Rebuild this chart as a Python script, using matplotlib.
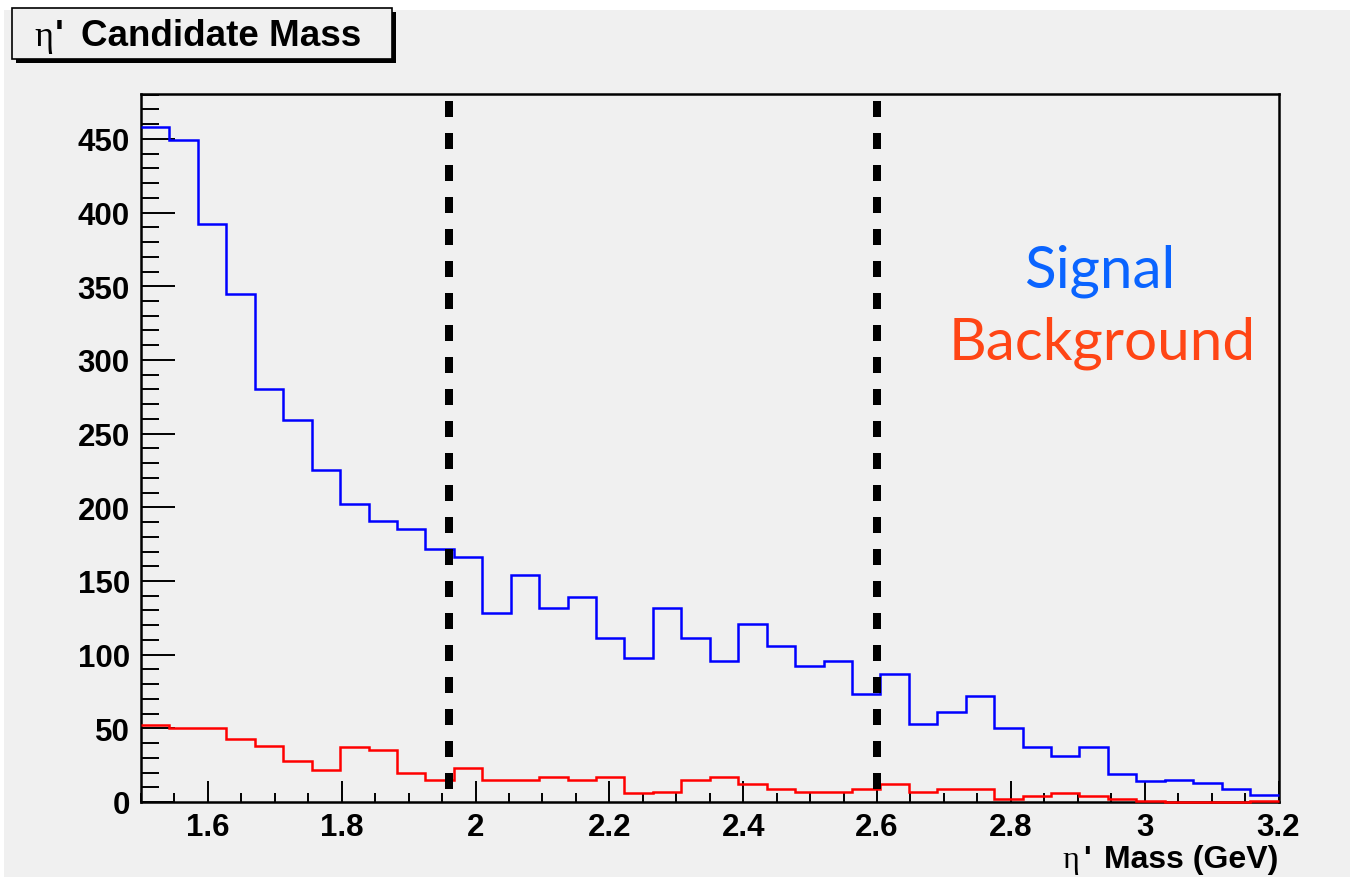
import matplotlib
matplotlib.use('Agg')
import matplotlib.pyplot as plt
import numpy as np
from matplotlib.patches import Rectangle
from matplotlib.ticker import MultipleLocator, FixedLocator, FixedFormatter

# ---- data ----
bin_lo, bin_hi, n_bins = 1.5, 3.2, 40
signal = [458, 449, 392, 345, 280, 259, 225, 202, 191, 185,
          172, 166, 128, 154, 132, 139, 111, 98, 132, 111,
          96, 121, 106, 92, 96, 73, 87, 53, 61, 72,
          50, 37, 31, 37, 19, 14, 15, 13, 9, 5]
background = [52, 50, 50, 43, 38, 28, 22, 37, 35, 20,
              15, 23, 15, 15, 17, 15, 17, 6, 7, 15,
              17, 12, 9, 7, 7, 9, 12, 7, 9, 9,
              2, 4, 6, 4, 2, 1, 0, 0, 0, 1]
cut_values = [1.96, 2.6]
cut_top = 476
x_ticks = [1.6, 1.8, 2.0, 2.2, 2.4, 2.6, 2.8, 3.0, 3.2]
x_tick_labels = ['1.6', '1.8', '2', '2.2', '2.4', '2.6', '2.8', '3', '3.2']
y_ticks = [0, 50, 100, 150, 200, 250, 300, 350, 400, 450]

W, H = 1350, 878
BG = '#f0f0f0'
SANS = 'Liberation Sans'

fig = plt.figure(figsize=(W / 100, H / 100), dpi=100, facecolor='white')
fig.add_artist(Rectangle((4 / W, 0), 1 - 4 / W, (H - 11) / H, transform=fig.transFigure,
                         facecolor=BG, edgecolor='none', zorder=-10))

ax = fig.add_axes([141 / W, (H - 803) / H, (1278.5 - 141) / W, (803 - 95) / H])
ax.set_facecolor(BG)

edges = np.linspace(bin_lo, bin_hi, n_bins + 1)
ax.stairs(signal, edges, baseline=None, color='#0000ff', lw=1.8, zorder=3, clip_on=False)
ax.stairs(background, edges, baseline=None, color='#ff0000', lw=1.8, zorder=4, clip_on=False)
for xc in cut_values:
    ax.plot([xc, xc], [cut_top, 0], color='black', lw=5.76, dashes=(2, 2),
            dash_capstyle='butt', zorder=5)

ax.set_xlim(bin_lo, bin_hi)
ax.set_ylim(0, 480.5)

ax.xaxis.set_major_locator(FixedLocator(x_ticks))
ax.xaxis.set_major_formatter(FixedFormatter(x_tick_labels))
ax.xaxis.set_minor_locator(MultipleLocator(0.05))
ax.yaxis.set_major_locator(FixedLocator(y_ticks))
ax.yaxis.set_minor_locator(MultipleLocator(10))

ax.tick_params(axis='x', which='major', direction='in', length=15, width=1.4, pad=7,
               top=False, labelsize=22.5)
ax.tick_params(axis='x', which='minor', direction='in', length=6.5, width=1.4, top=False)
ax.tick_params(axis='y', which='major', direction='in', length=24.5, width=1.4, pad=8,
               right=False, labelsize=22.5)
ax.tick_params(axis='y', which='minor', direction='in', length=12.7, width=1.4, right=False)
for lab in ax.get_xticklabels() + ax.get_yticklabels():
    lab.set_fontfamily(SANS)
    lab.set_fontweight('bold')
for sp in ax.spines.values():
    sp.set_linewidth(1.8)
    sp.set_zorder(2)

# title box with shadow
fig.add_artist(Rectangle((16 / W, 1 - 64 / H), 380 / W, 51 / H, transform=fig.transFigure,
                         facecolor='black', edgecolor='none', zorder=1))
fig.add_artist(Rectangle((12 / W, 1 - 60 / H), 380 / W, 51 / H, transform=fig.transFigure,
                         facecolor=BG, edgecolor='black', lw=1.2, zorder=2))
fig.text(34 / W, 1 - 46 / H, 'η', family='Liberation Serif', fontsize=26, va='baseline',
         ha='left', zorder=3)
fig.text(55 / W, 1 - 46 / H, "'", family=SANS, fontweight='bold', fontsize=26.5,
         va='baseline', ha='left', zorder=3)
fig.text(81 / W, 1 - 46 / H, 'Candidate Mass', family=SANS, fontweight='bold', fontsize=26.5,
         va='baseline', ha='left', zorder=3)

# x-axis label
fig.text(1062 / W, 1 - 868 / H, 'η', family='Liberation Serif', fontsize=23, va='baseline',
         ha='left')
fig.text(1083 / W, 1 - 868 / H, "'", family=SANS, fontweight='bold', fontsize=23,
         va='baseline', ha='left')
fig.text(1278 / W, 1 - 868 / H, 'Mass (GeV)', family=SANS, fontweight='bold', fontsize=23,
         va='baseline', ha='right')

# annotations
fig.text(1100 / W, 1 - 288 / H, 'Signal', family='Lato', fontsize=42, color='#0a64ff',
         ha='center', va='baseline')
fig.text(1102 / W, 1 - 360 / H, 'Background', family='Lato', fontsize=42, color='#ff4515',
         ha='center', va='baseline')

fig.savefig('out.png', dpi=100, facecolor='white')
